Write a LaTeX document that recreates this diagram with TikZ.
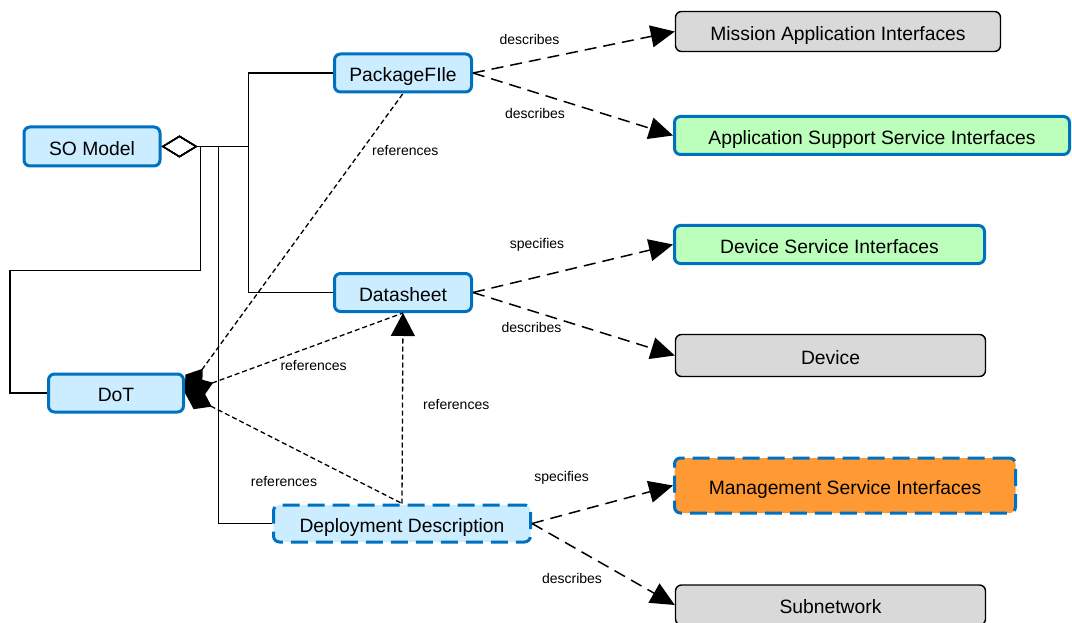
\documentclass[tikz,border=0pt]{standalone}
\usepackage{fontspec}
\setmainfont{Liberation Sans}
\usetikzlibrary{arrows.meta,positioning,calc}

\definecolor{soblue}{RGB}{0,112,192}
\definecolor{sofill}{RGB}{204,236,255}
\definecolor{sogreen}{RGB}{187,255,187}
\definecolor{sogray}{RGB}{217,217,217}
\definecolor{soorange}{RGB}{255,153,51}

\begin{document}
\begin{tikzpicture}[x=1pt,y=-1pt,
  box/.style={rectangle, rounded corners=6pt, line width=3pt, draw=soblue, fill=sofill, inner sep=0pt, text height=17.5pt, text depth=0pt, font=\fontsize{19.3}{22}\selectfont},
  graybox/.style={box, line width=1.4pt, draw=black, fill=sogray},
  greenbox/.style={box, fill=sogreen},
  dashbox/.style={dash pattern=on 17pt off 8pt},
  lbl/.style={inner sep=0pt, font=\fontsize{14}{16}\selectfont},
  agg/.style={line width=1.5pt, {Diamond[open,length=36pt,width=22pt,line width=1.4pt]}-},
  refs/.style={line width=1.3pt, dash pattern=on 5pt off 3pt},
  desc/.style={line width=1.5pt, dash pattern=on 12pt off 7pt, -{Triangle[length=24pt,width=22pt]}}
]
\useasboundingbox (0,0) rectangle (1072,623);
% Model elements
\node[box, minimum width=136pt, minimum height=39pt] (som) at (92,146.5) {SO Model};
\node[box, minimum width=137pt, minimum height=38pt] (pkg) at (403,73) {PackageFIle};
\node[box, minimum width=137pt, minimum height=38pt] (ds) at (403,292.5) {Datasheet};
\node[box, minimum width=135pt, minimum height=38pt] (dot) at (116,393) {DoT};
\node[box, dashbox, minimum width=257pt, minimum height=37pt] (dd) at (402,523.5) {Deployment Description};
% Described interfaces
\node[graybox, minimum width=325pt, minimum height=40pt] (mai) at (838,31.5) {Mission Application Interfaces};
\node[greenbox, minimum width=395pt, minimum height=38pt] (assi) at (872,135.5) {Application Support Service Interfaces};
\node[greenbox, minimum width=310pt, minimum height=38pt] (dsi) at (829.5,244.5) {Device Service Interfaces};
\node[graybox, minimum width=310pt, minimum height=42pt] (dev) at (830.5,355.5) {Device};
\node[box, dashbox, fill=soorange, minimum width=341pt, minimum height=55pt] (msi) at (845,485.5) {Management Service Interfaces};
\node[graybox, minimum width=310pt, minimum height=40pt] (sub) at (830.5,605) {Subnetwork};
% Aggregation from SO Model
\draw[agg] (som.east) -- ++(87,0) |- (pkg.west);
\draw[agg] (som.east) -- ++(87,0) |- (ds.west);
\draw[agg] (som.east) -- ++(39,0) -- ++(0,124) -| ([xshift=-37pt]dot.west) -- (dot.west);
\draw[agg] (som.east) -- ++(57,0) |- (dd.west);
% references
\draw[refs, {Diamond[length=30pt,width=21pt]}-] (dot.east) -- node[lbl, pos=0.81, anchor=west, xshift=10pt] (r1) {references} (pkg.south);
\draw[refs, {Diamond[length=30pt,width=21pt]}-] (dot.east) -- node[lbl, pos=0.59, yshift=-20pt] (r2) {references} (ds.south);
\draw[refs, {Diamond[length=30pt,width=21pt]}-] (dot.east) -- node[lbl, pos=0.456, yshift=-38pt] (r3) {references} (dd.north);
\draw[refs, -{Triangle[length=23pt,width=24pt]}] (dd.north) -- node[lbl, pos=0.52, anchor=west, xshift=20pt] (r4) {references} (ds.south);
% describes / specifies
\foreach \a/\b/\t/\p/\s in {pkg/mai/describes/0.28/22, pkg/assi/describes/0.31/-21,
  ds/dsi/specifies/0.32/32, ds/dev/describes/0.29/-17,
  dd/msi/specifies/0.21/38, dd/sub/describes/0.28/-32} {
  \draw[desc] (\a.east) -- node[lbl, pos=\p, yshift=\s pt] (l-\b) {\t} (\b.west);
}
\end{tikzpicture}
\end{document}
